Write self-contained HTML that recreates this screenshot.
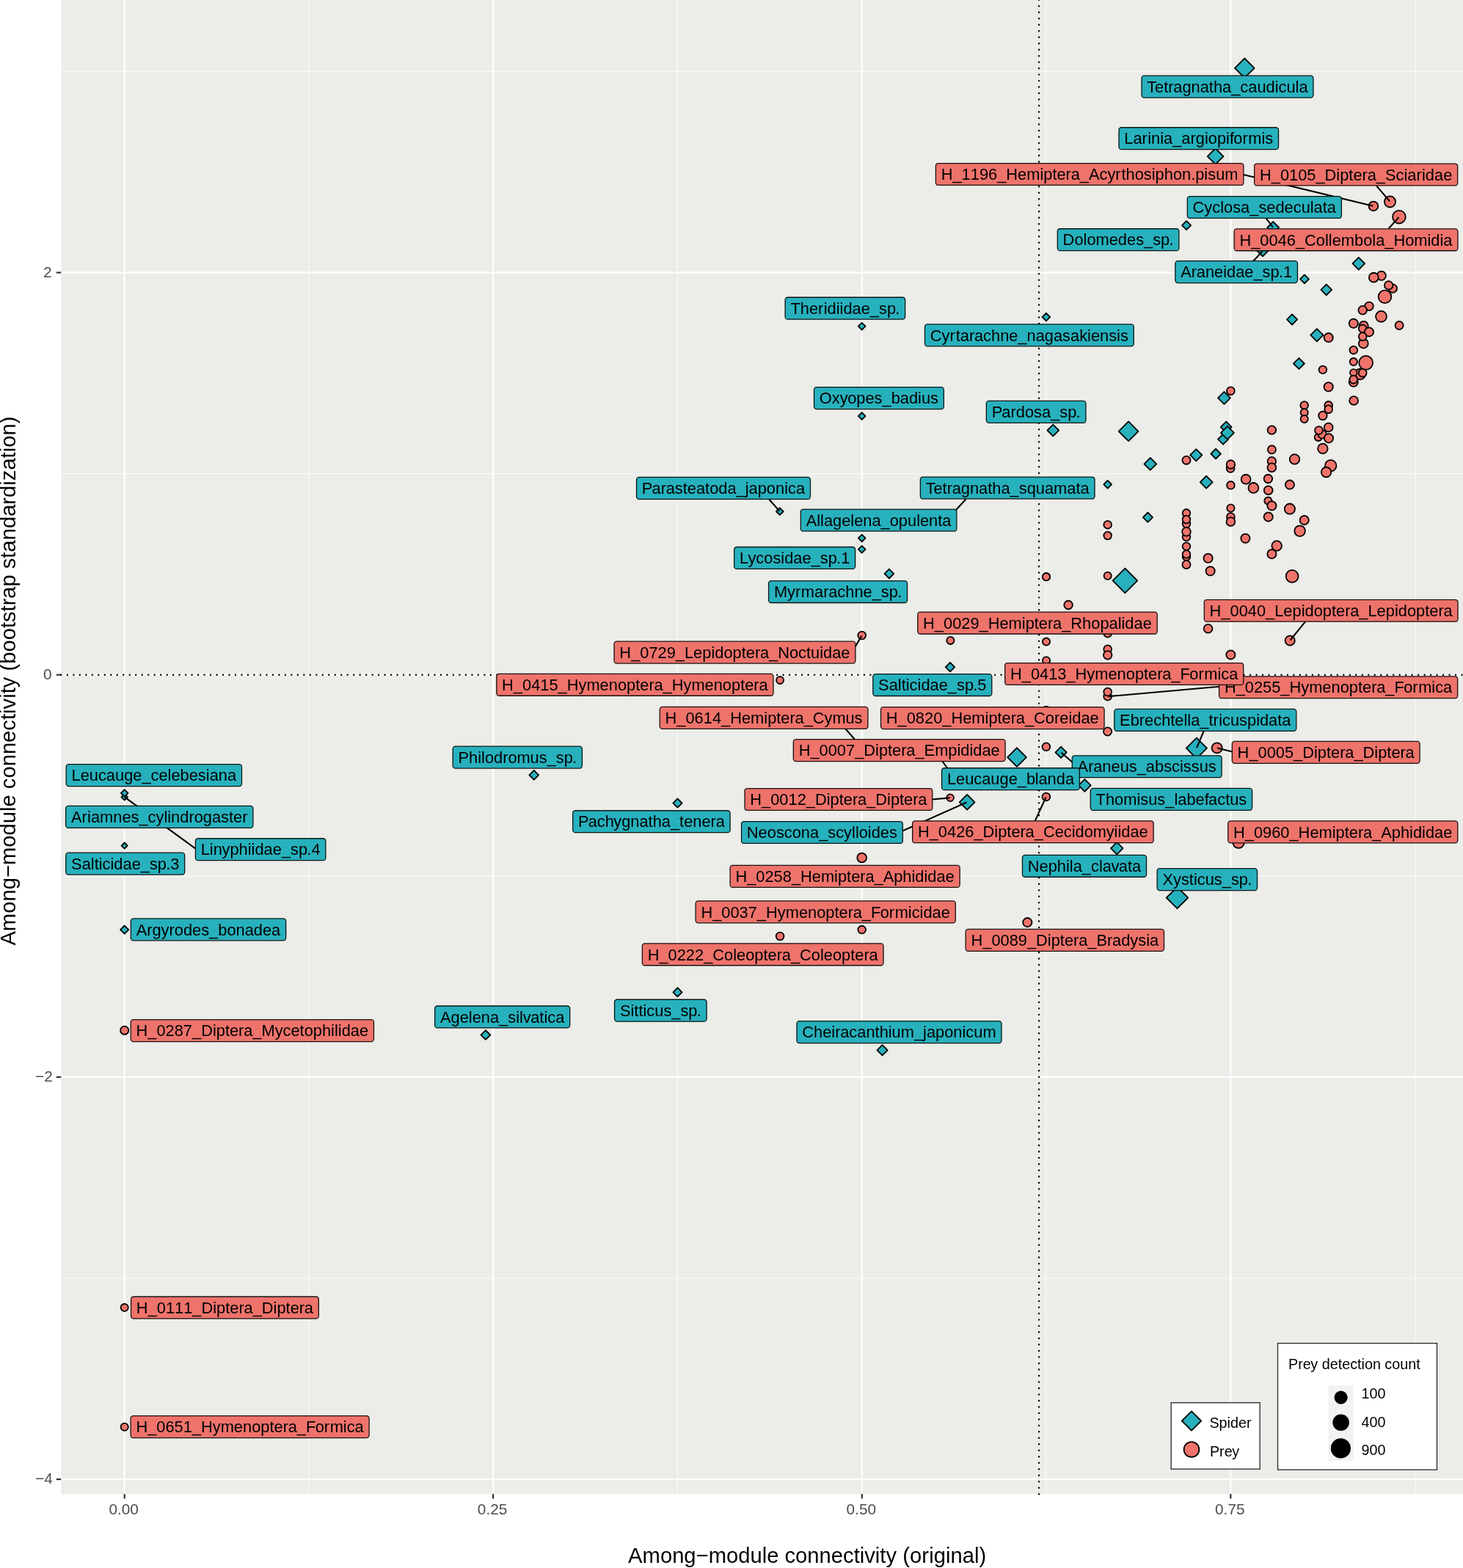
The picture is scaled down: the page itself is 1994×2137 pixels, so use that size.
<!DOCTYPE html>
<html lang="en"><head><meta charset="utf-8"><title>Among-module connectivity</title>
<style>html,body{margin:0;padding:0;background:#fff}body{width:1994px;height:2137px;overflow:hidden}svg{display:block}text{font-family:'Liberation Sans', sans-serif;font-kerning:none}</style>
</head><body>
<svg width="1994" height="2137" viewBox="0 0 1994 2137">
<rect x="0" y="0" width="1994" height="2137" fill="#fff"/>
<rect x="83.2" y="0" width="1910.8" height="2036.1" fill="#ecece8"/>
<defs><clipPath id="pc"><rect x="83.2" y="0" width="1910.8" height="2036.1"/></clipPath></defs>
<g clip-path="url(#pc)">
<g stroke="#fff" stroke-width="1.2" stroke-opacity="0.68">
<line x1="83.2" x2="1994" y1="97.4" y2="97.4"/>
<line x1="83.2" x2="1994" y1="645.6" y2="645.6"/>
<line x1="83.2" x2="1994" y1="1193.9" y2="1193.9"/>
<line x1="83.2" x2="1994" y1="1742" y2="1742"/>
<line x1="420.9" x2="420.9" y1="0" y2="2036.1"/>
<line x1="923.4" x2="923.4" y1="0" y2="2036.1"/>
<line x1="1425.9" x2="1425.9" y1="0" y2="2036.1"/>
<line x1="1929" x2="1929" y1="0" y2="2036.1"/>
</g>
<g stroke="#fff" stroke-width="2.3">
<line x1="83.2" x2="1994" y1="371.5" y2="371.5"/>
<line x1="83.2" x2="1994" y1="919.7" y2="919.7"/>
<line x1="83.2" x2="1994" y1="1467.9" y2="1467.9"/>
<line x1="83.2" x2="1994" y1="2016.1" y2="2016.1"/>
<line x1="169.7" x2="169.7" y1="0" y2="2036.1"/>
<line x1="672.1" x2="672.1" y1="0" y2="2036.1"/>
<line x1="1174.8" x2="1174.8" y1="0" y2="2036.1"/>
<line x1="1677.3" x2="1677.3" y1="0" y2="2036.1"/>
</g>
</g>
<g stroke="#000" stroke-width="2.45" stroke-linecap="round" stroke-dasharray="0.005 8.48" fill="none">
<line x1="1416.05" x2="1416.05" y1="2036.2" y2="-5"/>
<line x1="83.4" x2="1999" y1="919.65" y2="919.65"/>
</g>
<g clip-path="url(#pc)">
<g stroke="#000" stroke-width="1.8" stroke-linejoin="round">
<g fill="#27b1bd">
<path d="M1696.3 79.5L1709.6 92.8L1696.3 106.1L1683 92.8Z"/>
<path d="M1656.6 202.25L1667.45 213.1L1656.6 223.95L1645.75 213.1Z"/>
<path d="M1617.1 301.2L1623.1 307.2L1617.1 313.2L1611.1 307.2Z"/>
<path d="M1735.2 302.15L1743.05 310L1735.2 317.85L1727.35 310Z"/>
<path d="M1721 334.65L1728.35 342L1721 349.35L1713.65 342Z"/>
<path d="M1851.8 350.85L1860.15 359.2L1851.8 367.55L1843.45 359.2Z"/>
<path d="M1778 374.35L1783.95 380.3L1778 386.25L1772.05 380.3Z"/>
<path d="M1807.8 387.55L1815.15 394.9L1807.8 402.25L1800.45 394.9Z"/>
<path d="M1761.1 428.3L1768.2 435.4L1761.1 442.5L1754 435.4Z"/>
<path d="M1794.9 448.1L1803.5 456.7L1794.9 465.3L1786.3 456.7Z"/>
<path d="M1770.4 488.05L1777.85 495.5L1770.4 502.95L1762.95 495.5Z"/>
<path d="M1174.7 439.85L1179.55 444.7L1174.7 449.55L1169.85 444.7Z"/>
<path d="M1425.9 426.75L1431.25 432.1L1425.9 437.45L1420.55 432.1Z"/>
<path d="M1174.7 562.25L1179.55 567.1L1174.7 571.95L1169.85 567.1Z"/>
<path d="M1062.8 692.15L1067.65 697L1062.8 701.85L1057.95 697Z"/>
<path d="M1174.7 728.55L1179.55 733.4L1174.7 738.25L1169.85 733.4Z"/>
<path d="M1174.7 743.85L1179.55 748.7L1174.7 753.55L1169.85 748.7Z"/>
<path d="M1211.9 775.55L1218.25 781.9L1211.9 788.25L1205.55 781.9Z"/>
<path d="M1295 903L1301.2 909.2L1295 915.4L1288.8 909.2Z"/>
<path d="M1435.3 578.65L1443.15 586.5L1435.3 594.35L1427.45 586.5Z"/>
<path d="M1538.1 574.45L1551.45 587.8L1538.1 601.15L1524.75 587.8Z"/>
<path d="M1567.8 623.95L1576.15 632.3L1567.8 640.65L1559.45 632.3Z"/>
<path d="M1509.7 654.85L1515.05 660.2L1509.7 665.55L1504.35 660.2Z"/>
<path d="M1564.4 698.5L1571 705.1L1564.4 711.7L1557.8 705.1Z"/>
<path d="M1630.3 612.1L1638.4 620.2L1630.3 628.3L1622.2 620.2Z"/>
<path d="M1657.1 611.75L1663.85 618.5L1657.1 625.25L1650.35 618.5Z"/>
<path d="M1644.2 648.75L1652.65 657.2L1644.2 665.65L1635.75 657.2Z"/>
<path d="M1668.5 533.95L1676.95 542.4L1668.5 550.85L1660.05 542.4Z"/>
<path d="M1671.2 574.65L1678.55 582L1671.2 589.35L1663.85 582Z"/>
<path d="M1667.1 591.55L1674.15 598.6L1667.1 605.65L1660.05 598.6Z"/>
<path d="M1672.9 580.8L1681.9 589.8L1672.9 598.8L1663.9 589.8Z"/>
<path d="M1533.4 774.55L1550.15 791.3L1533.4 808.05L1516.65 791.3Z"/>
<path d="M1630.9 1005.6L1645 1019.7L1630.9 1033.8L1616.8 1019.7Z"/>
<path d="M1522.3 1147.85L1530.55 1156.1L1522.3 1164.35L1514.05 1156.1Z"/>
<path d="M1604.5 1208.8L1619.2 1223.5L1604.5 1238.2L1589.8 1223.5Z"/>
<path d="M1386 1019.25L1398.85 1032.1L1386 1044.95L1373.15 1032.1Z"/>
<path d="M1446.1 1017.7L1453.7 1025.3L1446.1 1032.9L1438.5 1025.3Z"/>
<path d="M1478.4 1062.05L1486.75 1070.4L1478.4 1078.75L1470.05 1070.4Z"/>
<path d="M1318.1 1082.95L1328.45 1093.3L1318.1 1103.65L1307.75 1093.3Z"/>
<path d="M727.8 1049.95L734.15 1056.3L727.8 1062.65L721.45 1056.3Z"/>
<path d="M923.5 1088.5L929.6 1094.6L923.5 1100.7L917.4 1094.6Z"/>
<path d="M923.5 1346.2L929.6 1352.3L923.5 1358.4L917.4 1352.3Z"/>
<path d="M169.7 1081.95L174.05 1086.3L169.7 1090.65L165.35 1086.3Z"/>
<path d="M169.7 1076.05L174.55 1080.9L169.7 1085.75L164.85 1080.9Z"/>
<path d="M169.7 1148.5L173.8 1152.6L169.7 1156.7L165.6 1152.6Z"/>
<path d="M169.7 1261.5L175.3 1267.1L169.7 1272.7L164.1 1267.1Z"/>
<path d="M661.9 1404.15L668.25 1410.5L661.9 1416.85L655.55 1410.5Z"/>
<path d="M1202.6 1424.15L1209.75 1431.3L1202.6 1438.45L1195.45 1431.3Z"/>
</g>
<g fill="#ee736b">
<circle cx="1871.9" cy="280.9" r="6.35"/>
<circle cx="1894.5" cy="274.9" r="7.6"/>
<circle cx="1906.9" cy="295.7" r="8.85"/>
<circle cx="1882.8" cy="375.8" r="6.1"/>
<circle cx="1872.3" cy="378.2" r="6.45"/>
<circle cx="1898.3" cy="393.1" r="5.75"/>
<circle cx="1892.7" cy="388.9" r="5.75"/>
<circle cx="1887.5" cy="404.4" r="8.8"/>
<circle cx="1866" cy="417.3" r="5.75"/>
<circle cx="1857.2" cy="422.7" r="5.75"/>
<circle cx="1882.5" cy="431.3" r="7.45"/>
<circle cx="1907.1" cy="443.5" r="5.55"/>
<circle cx="1844.8" cy="440.8" r="6.1"/>
<circle cx="1858.6" cy="443.9" r="6.1"/>
<circle cx="1857.2" cy="447.9" r="5.4"/>
<circle cx="1866" cy="452.4" r="6.1"/>
<circle cx="1858.3" cy="468.1" r="6.45"/>
<circle cx="1857.2" cy="458.7" r="5.4"/>
<circle cx="1810.7" cy="460.1" r="6.1"/>
<circle cx="1844.8" cy="477.2" r="5.3"/>
<circle cx="1853.8" cy="509.9" r="7.35"/>
<circle cx="1861.7" cy="494.4" r="9.45"/>
<circle cx="1844.8" cy="493.1" r="5.1"/>
<circle cx="1802.9" cy="503.9" r="5.3"/>
<circle cx="1844.8" cy="507.9" r="4.75"/>
<circle cx="1857.2" cy="508.2" r="5.4"/>
<circle cx="1844.8" cy="520.7" r="6.1"/>
<circle cx="1844.8" cy="517.3" r="5.4"/>
<circle cx="1810.7" cy="527.2" r="6.1"/>
<circle cx="1845.1" cy="546" r="5.9"/>
<circle cx="1777.7" cy="552.4" r="5.3"/>
<circle cx="1777.7" cy="562.3" r="5.1"/>
<circle cx="1777.7" cy="571.1" r="5.1"/>
<circle cx="1810.7" cy="552.4" r="5.4"/>
<circle cx="1810.7" cy="557.8" r="5.4"/>
<circle cx="1802.9" cy="566.5" r="5.75"/>
<circle cx="1810.7" cy="582.5" r="5.9"/>
<circle cx="1796.8" cy="595.9" r="5.1"/>
<circle cx="1802.2" cy="591.9" r="5.75"/>
<circle cx="1797.5" cy="586.5" r="5.4"/>
<circle cx="1811" cy="597.3" r="6.1"/>
<circle cx="1802.9" cy="611.4" r="6.75"/>
<circle cx="1764.5" cy="625.8" r="6.75"/>
<circle cx="1813.7" cy="634.7" r="7.75"/>
<circle cx="1807.6" cy="643.5" r="6.75"/>
<circle cx="1757.9" cy="660.6" r="6.1"/>
<circle cx="1757.9" cy="693.6" r="7.1"/>
<circle cx="1777.7" cy="708.9" r="6.1"/>
<circle cx="1771.6" cy="723.6" r="7.3"/>
<circle cx="1740.2" cy="743.9" r="6.75"/>
<circle cx="1761.1" cy="785.3" r="8.45"/>
<circle cx="1677.4" cy="532.8" r="5.4"/>
<circle cx="1617" cy="627.2" r="5.55"/>
<circle cx="1733.4" cy="586.1" r="5.75"/>
<circle cx="1733.4" cy="612.8" r="5.55"/>
<circle cx="1733.4" cy="628.7" r="5.75"/>
<circle cx="1733.4" cy="637.3" r="5.9"/>
<circle cx="1677.1" cy="638.4" r="5.4"/>
<circle cx="1677.4" cy="633" r="5.75"/>
<circle cx="1677.4" cy="661.3" r="5.3"/>
<circle cx="1698.1" cy="653.2" r="6.45"/>
<circle cx="1708.4" cy="664.9" r="6.9"/>
<circle cx="1728.4" cy="652.5" r="5.75"/>
<circle cx="1728.7" cy="668.3" r="5.9"/>
<circle cx="1728.4" cy="682.6" r="5.1"/>
<circle cx="1733.4" cy="689.2" r="6.1"/>
<circle cx="1728.7" cy="704.4" r="6.1"/>
<circle cx="1677.4" cy="692.5" r="5.1"/>
<circle cx="1677.4" cy="704.5" r="5.4"/>
<circle cx="1677.4" cy="711" r="5.9"/>
<circle cx="1617" cy="699.3" r="5.3"/>
<circle cx="1617" cy="714" r="5.3"/>
<circle cx="1617" cy="708" r="5.3"/>
<circle cx="1617" cy="731.8" r="5.3"/>
<circle cx="1617" cy="724.8" r="5.85"/>
<circle cx="1509.7" cy="715.2" r="5.3"/>
<circle cx="1509.7" cy="730" r="5.3"/>
<circle cx="1697.4" cy="733.8" r="6.1"/>
<circle cx="1509.7" cy="784.7" r="5.1"/>
<circle cx="1617" cy="744.6" r="5.3"/>
<circle cx="1617" cy="758.7" r="5.3"/>
<circle cx="1617" cy="755.4" r="5.3"/>
<circle cx="1617" cy="769.5" r="5.55"/>
<circle cx="1733.4" cy="755" r="6.1"/>
<circle cx="1646.6" cy="760.8" r="6.1"/>
<circle cx="1649.6" cy="778.3" r="6.1"/>
<circle cx="1646.6" cy="856.7" r="5.9"/>
<circle cx="1509.7" cy="863.2" r="5.35"/>
<circle cx="1509.7" cy="884.7" r="5.4"/>
<circle cx="1509.7" cy="892.8" r="5.75"/>
<circle cx="1677.4" cy="892.4" r="6.1"/>
<circle cx="1509.7" cy="949.2" r="5.35"/>
<circle cx="1509.7" cy="943" r="5.35"/>
<circle cx="1426" cy="786.1" r="5.1"/>
<circle cx="1426" cy="786.3" r="5.1"/>
<circle cx="1456.1" cy="824.5" r="5.75"/>
<circle cx="1295.4" cy="872.9" r="5.1"/>
<circle cx="1426" cy="874.6" r="5.1"/>
<circle cx="1426" cy="900.2" r="5.1"/>
<circle cx="1758.2" cy="873" r="6.6"/>
<circle cx="1174.7" cy="866" r="5.35"/>
<circle cx="1063.1" cy="927" r="5"/>
<circle cx="1509.6" cy="997" r="5.6"/>
<circle cx="1658.7" cy="1019.4" r="7"/>
<circle cx="1688.1" cy="1148" r="7.85"/>
<circle cx="1425.9" cy="968" r="5.35"/>
<circle cx="1425.9" cy="1017.8" r="5.35"/>
<circle cx="1295.1" cy="1087.3" r="4.85"/>
<circle cx="1425.9" cy="1086" r="5.35"/>
<circle cx="1295.1" cy="1052.4" r="5.35"/>
<circle cx="1174.7" cy="1169" r="6.35"/>
<circle cx="1400.3" cy="1257.1" r="6.1"/>
<circle cx="1174.7" cy="1267.1" r="5.35"/>
<circle cx="1063.1" cy="1276" r="5.35"/>
<circle cx="169.7" cy="1404.3" r="5.6"/>
<circle cx="169.7" cy="1782.1" r="5.1"/>
<circle cx="169.7" cy="1944.7" r="5.1"/>
</g>
</g>
<g stroke="#000" stroke-width="2.1" stroke-linecap="butt">
<line x1="1694.8" y1="238" x2="1871.32" y2="280.76"/>
<line x1="1876.2" y1="253.4" x2="1894.11" y2="274.44"/>
<line x1="1892.9" y1="311.3" x2="1906.5" y2="296.15"/>
<line x1="1725.6" y1="297.4" x2="1734.84" y2="309.52"/>
<line x1="1708.2" y1="355.8" x2="1720.59" y2="342.44"/>
<line x1="1048" y1="680.3" x2="1062.4" y2="696.55"/>
<line x1="1165.8" y1="881.1" x2="1174.4" y2="866.52"/>
<line x1="1316.7" y1="680" x2="1302.5" y2="695.5"/>
<line x1="1779.2" y1="847.1" x2="1758.58" y2="872.53"/>
<line x1="1661.7" y1="935.8" x2="1510.3" y2="949.15"/>
<line x1="1640.6" y1="996.5" x2="1631.13" y2="1019.15"/>
<line x1="1679.4" y1="1024.5" x2="1659.28" y2="1019.54"/>
<line x1="1152.3" y1="993.3" x2="1165" y2="1007.8"/>
<line x1="1284.4" y1="1037.5" x2="1294.75" y2="1051.91"/>
<line x1="1270.4" y1="1089.5" x2="1294.5" y2="1087.35"/>
<line x1="1230.5" y1="1132.3" x2="1317.55" y2="1093.54"/>
<line x1="1410.5" y1="1119.1" x2="1425.65" y2="1086.54"/>
<line x1="1461.5" y1="1038.8" x2="1446.55" y2="1025.7"/>
<line x1="266.2" y1="1156.3" x2="170.19" y2="1086.65"/>
</g>
<g font-size="21.84" fill="#000">
<rect x="1556.01" y="103.15" width="233.98" height="29.9" rx="3.5" ry="3.5" fill="#27b1bd" stroke="#000" stroke-opacity="0.9" stroke-width="1.3"/>
<text x="1563.32" y="125.8" dx="0 -2.62 0 0 -0.22">Tetragnatha_caudicula</text>
<rect x="1524.97" y="173.75" width="217.56" height="29.9" rx="3.5" ry="3.5" fill="#27b1bd" stroke="#000" stroke-opacity="0.9" stroke-width="1.3"/>
<text x="1532.28" y="196.4" dx="0 0 0 0.33 0 0 0 0 0 0 0 0 0 0 0 0 -0.66 0 0.55">Larinia_argiopiformis</text>
<rect x="1618.31" y="267.55" width="210.08" height="29.9" rx="3.5" ry="3.5" fill="#27b1bd" stroke="#000" stroke-opacity="0.9" stroke-width="1.3"/>
<text x="1625.62" y="290.2">Cyclosa_sedeculata</text>
<rect x="1441.3" y="311.75" width="165.61" height="29.9" rx="3.5" ry="3.5" fill="#27b1bd" stroke="#000" stroke-opacity="0.9" stroke-width="1.3"/>
<text x="1448.61" y="334.4" dx="0 0 0 0 0 0 0 0 0 0 0 0 -0.76">Dolomedes_sp.</text>
<rect x="1601.83" y="355.65" width="166.64" height="29.9" rx="3.5" ry="3.5" fill="#27b1bd" stroke="#000" stroke-opacity="0.9" stroke-width="1.3"/>
<text x="1609.14" y="378.3" dx="0 0 -0.22 0 0 0 0 0 0 0 0 0 -0.76">Araneidae_sp.1</text>
<rect x="1070.14" y="405.25" width="163.51" height="29.9" rx="3.5" ry="3.5" fill="#27b1bd" stroke="#000" stroke-opacity="0.9" stroke-width="1.3"/>
<text x="1077.45" y="427.9" dx="0 0 0 0 0.33 0 0 0 0 0 0 0 0 0 -0.76">Theridiidae_sp.</text>
<rect x="1260.51" y="441.9" width="284.79" height="29.9" rx="3.5" ry="3.5" fill="#27b1bd" stroke="#000" stroke-opacity="0.9" stroke-width="1.3"/>
<text x="1267.82" y="464.55" dx="0 0 0 0.87 0 0 -0.22">Cyrtarachne_nagasakiensis</text>
<rect x="1109.51" y="527.7" width="176.87" height="29.9" rx="3.5" ry="3.5" fill="#27b1bd" stroke="#000" stroke-opacity="0.9" stroke-width="1.3"/>
<text x="1116.82" y="550.35" dx="0 0 0 -0.44">Oxyopes_badius</text>
<rect x="1344.35" y="546.45" width="135.61" height="29.9" rx="3.5" ry="3.5" fill="#27b1bd" stroke="#000" stroke-opacity="0.9" stroke-width="1.3"/>
<text x="1351.66" y="569.1" dx="0 -0.87 0 0 0 0 0 0 0 0 -0.76">Pardosa_sp.</text>
<rect x="867.52" y="650.4" width="236.95" height="29.9" rx="3.5" ry="3.5" fill="#27b1bd" stroke="#000" stroke-opacity="0.9" stroke-width="1.3"/>
<text x="874.83" y="673.05" dx="0 -0.87 0 -0.22">Parasteatoda_japonica</text>
<rect x="1254.39" y="650.05" width="237.61" height="29.9" rx="3.5" ry="3.5" fill="#27b1bd" stroke="#000" stroke-opacity="0.9" stroke-width="1.3"/>
<text x="1261.7" y="672.7" dx="0 -2.62 0 0 -0.22">Tetragnatha_squamata</text>
<rect x="1091.32" y="694.05" width="212.57" height="29.9" rx="3.5" ry="3.5" fill="#27b1bd" stroke="#000" stroke-opacity="0.9" stroke-width="1.3"/>
<text x="1098.63" y="716.7">Allagelena_opulenta</text>
<rect x="1000.66" y="745.5" width="164.97" height="29.9" rx="3.5" ry="3.5" fill="#27b1bd" stroke="#000" stroke-opacity="0.9" stroke-width="1.3"/>
<text x="1007.97" y="768.15" dx="0 -0.66 0 0 0 0 0 0 0 0 0 0 -0.76">Lycosidae_sp.1</text>
<rect x="1047.57" y="791.6" width="188.97" height="29.9" rx="3.5" ry="3.5" fill="#27b1bd" stroke="#000" stroke-opacity="0.9" stroke-width="1.3"/>
<text x="1054.88" y="814.25" dx="0 0 0 0.55 0 0 -0.22 0 0 0 0 0 0 0 -0.76">Myrmarachne_sp.</text>
<rect x="1189.81" y="918.6" width="161.98" height="29.9" rx="3.5" ry="3.5" fill="#27b1bd" stroke="#000" stroke-opacity="0.9" stroke-width="1.3"/>
<text x="1197.12" y="941.25" dx="0 0 0 0 0 0 0 0 0 0 0 0 0 -0.76">Salticidae_sp.5</text>
<rect x="1518.78" y="966.45" width="248.04" height="29.9" rx="3.5" ry="3.5" fill="#27b1bd" stroke="#000" stroke-opacity="0.9" stroke-width="1.3"/>
<text x="1526.09" y="989.1" dx="0 0 0 0 0 0 0 0 0 0 0 0 0 0 0.33">Ebrechtella_tricuspidata</text>
<rect x="1461.31" y="1029.8" width="203.79" height="29.9" rx="3.5" ry="3.5" fill="#27b1bd" stroke="#000" stroke-opacity="0.9" stroke-width="1.3"/>
<text x="1468.62" y="1052.45" dx="0 0 -0.22">Araneus_abscissus</text>
<rect x="1283.57" y="1046.75" width="187.86" height="29.9" rx="3.5" ry="3.5" fill="#27b1bd" stroke="#000" stroke-opacity="0.9" stroke-width="1.3"/>
<text x="1290.88" y="1069.4" dx="0 0 0 0 0 0 0 0 0 0 -0.44">Leucauge_blanda</text>
<rect x="1486.28" y="1074.4" width="220.34" height="29.9" rx="3.5" ry="3.5" fill="#27b1bd" stroke="#000" stroke-opacity="0.9" stroke-width="1.3"/>
<text x="1493.59" y="1097.05" dx="0 0 0 0 0 0 0 0 0 0 0 0 0 0 -0.66">Thomisus_labefactus</text>
<rect x="617.15" y="1017.15" width="176.31" height="29.9" rx="3.5" ry="3.5" fill="#27b1bd" stroke="#000" stroke-opacity="0.9" stroke-width="1.3"/>
<text x="624.46" y="1039.8" dx="0 0 0 0 0 0 0 0 0 -0.22 0 0 0 0 -0.76">Philodromus_sp.</text>
<rect x="780.68" y="1104.75" width="214.45" height="29.9" rx="3.5" ry="3.5" fill="#27b1bd" stroke="#000" stroke-opacity="0.9" stroke-width="1.3"/>
<text x="787.99" y="1127.4" dx="0 -0.87 0 0 -0.66 0 0 0 0 0 0 0 0 0 0 0 0 -0.22">Pachygnatha_tenera</text>
<rect x="1010.56" y="1119.55" width="219.79" height="29.9" rx="3.5" ry="3.5" fill="#27b1bd" stroke="#000" stroke-opacity="0.9" stroke-width="1.3"/>
<text x="1017.87" y="1142.2">Neoscona_scylloides</text>
<rect x="1393.48" y="1165.35" width="169.05" height="29.9" rx="3.5" ry="3.5" fill="#27b1bd" stroke="#000" stroke-opacity="0.9" stroke-width="1.3"/>
<text x="1400.79" y="1188" dx="0 0 0 0 0 0 0 0 0 0 0 -0.44 -0.55">Nephila_clavata</text>
<rect x="1577.12" y="1183.7" width="136.45" height="29.9" rx="3.5" ry="3.5" fill="#27b1bd" stroke="#000" stroke-opacity="0.9" stroke-width="1.3"/>
<text x="1584.43" y="1206.35" dx="0 0 0 0 0 0 0 0 0 0 0 -0.76">Xysticus_sp.</text>
<rect x="90.21" y="1041.65" width="239.28" height="29.9" rx="3.5" ry="3.5" fill="#27b1bd" stroke="#000" stroke-opacity="0.9" stroke-width="1.3"/>
<text x="97.52" y="1064.3">Leucauge_celebesiana</text>
<rect x="89.6" y="1098.4" width="255.3" height="29.9" rx="3.5" ry="3.5" fill="#27b1bd" stroke="#000" stroke-opacity="0.9" stroke-width="1.3"/>
<text x="96.91" y="1121.05" dx="0 0 0.33">Ariamnes_cylindrogaster</text>
<rect x="266.42" y="1142.75" width="177.46" height="29.9" rx="3.5" ry="3.5" fill="#27b1bd" stroke="#000" stroke-opacity="0.9" stroke-width="1.3"/>
<text x="273.73" y="1165.4" dx="0 0 0 -0.33 0 0 0 0 0 0 0 0 0 0 -0.76">Linyphiidae_sp.4</text>
<rect x="89.76" y="1162.15" width="161.98" height="29.9" rx="3.5" ry="3.5" fill="#27b1bd" stroke="#000" stroke-opacity="0.9" stroke-width="1.3"/>
<text x="97.07" y="1184.8" dx="0 0 0 0 0 0 0 0 0 0 0 0 0 -0.76">Salticidae_sp.3</text>
<rect x="178.33" y="1251.9" width="211.33" height="29.9" rx="3.5" ry="3.5" fill="#27b1bd" stroke="#000" stroke-opacity="0.9" stroke-width="1.3"/>
<text x="185.64" y="1274.55">Argyrodes_bonadea</text>
<rect x="592.63" y="1371" width="184.05" height="29.9" rx="3.5" ry="3.5" fill="#27b1bd" stroke="#000" stroke-opacity="0.9" stroke-width="1.3"/>
<text x="599.94" y="1393.65" dx="0 0 0 0 0 0 0 0 0 0 0 0 -0.55">Agelena_silvatica</text>
<rect x="837.58" y="1362.25" width="125.53" height="29.9" rx="3.5" ry="3.5" fill="#27b1bd" stroke="#000" stroke-opacity="0.9" stroke-width="1.3"/>
<text x="844.89" y="1384.9" dx="0 0 0 0 0 0 0 0 0 0 0 -0.76">Sitticus_sp.</text>
<rect x="1085.97" y="1391.65" width="279.05" height="29.9" rx="3.5" ry="3.5" fill="#27b1bd" stroke="#000" stroke-opacity="0.9" stroke-width="1.3"/>
<text x="1093.28" y="1414.3" dx="0 0 0 0 0 -0.22">Cheiracanthium_japonicum</text>
<rect x="1275.38" y="222.55" width="419.54" height="29.9" rx="3.5" ry="3.5" fill="#ee736b" stroke="#000" stroke-opacity="0.9" stroke-width="1.3"/>
<text x="1282.69" y="245.2" dx="0 0 0 0 0 0 0 0 0 0 0 0 0 0 0 -0.22 0 0 0 0 0 0.87">H_1196_Hemiptera_Acyrthosiphon.pisum</text>
<rect x="1709.66" y="223.05" width="276.98" height="29.9" rx="3.5" ry="3.5" fill="#ee736b" stroke="#000" stroke-opacity="0.9" stroke-width="1.3"/>
<text x="1716.97" y="245.7" dx="0 0 0 0 0 0 0 0 0 0 0 0 0 -0.22 0 0 0 0 0 0 0.33">H_0105_Diptera_Sciaridae</text>
<rect x="1682.16" y="311.85" width="304.78" height="29.9" rx="3.5" ry="3.5" fill="#ee736b" stroke="#000" stroke-opacity="0.9" stroke-width="1.3"/>
<text x="1689.47" y="334.5">H_0046_Collembola_Homidia</text>
<rect x="1250.78" y="834.1" width="326.45" height="29.9" rx="3.5" ry="3.5" fill="#ee736b" stroke="#000" stroke-opacity="0.9" stroke-width="1.3"/>
<text x="1258.09" y="856.75" dx="0 0 0 0 0 0 0 0 0 0 0 0 0 0 0 -0.22">H_0029_Hemiptera_Rhopalidae</text>
<rect x="1641.3" y="817.3" width="345.71" height="29.9" rx="3.5" ry="3.5" fill="#ee736b" stroke="#000" stroke-opacity="0.9" stroke-width="1.3"/>
<text x="1648.61" y="839.95" dx="0 0 0 0 0 0 0 0 0 0 0 0 0 0 0 0 0 -0.22 0 0 0 0 0 0 0 0 0 0 0 -0.22">H_0040_Lepidoptera_Lepidoptera</text>
<rect x="837.05" y="874.2" width="328.91" height="29.9" rx="3.5" ry="3.5" fill="#ee736b" stroke="#000" stroke-opacity="0.9" stroke-width="1.3"/>
<text x="844.36" y="896.85" dx="0 0 0 0 0 0 0 0 0 0 0 0 0 0 0 0 0 -0.22">H_0729_Lepidoptera_Noctuidae</text>
<rect x="676.8" y="918.35" width="377.19" height="29.9" rx="3.5" ry="3.5" fill="#ee736b" stroke="#000" stroke-opacity="0.9" stroke-width="1.3"/>
<text x="684.11" y="941" dx="0 0 0 0 0 0 0 0 0 0 0 0 0 0 0 0 0 -0.22 0 0 0 0 0 0 0 0 0 0 0 -0.22">H_0415_Hymenoptera_Hymenoptera</text>
<rect x="1661.57" y="921.8" width="325.07" height="29.9" rx="3.5" ry="3.5" fill="#ee736b" stroke="#000" stroke-opacity="0.9" stroke-width="1.3"/>
<text x="1668.88" y="944.45" dx="0 0 0 0 0 0 0 0 0 0 0 0 0 0 0 0 0 -0.22 0 0 -0.66 0 0.55">H_0255_Hymenoptera_Formica</text>
<rect x="1369.67" y="903.55" width="325.07" height="29.9" rx="3.5" ry="3.5" fill="#ee736b" stroke="#000" stroke-opacity="0.9" stroke-width="1.3"/>
<text x="1376.98" y="926.2" dx="0 0 0 0 0 0 0 0 0 0 0 0 0 0 0 0 0 -0.22 0 0 -0.66 0 0.55">H_0413_Hymenoptera_Formica</text>
<rect x="899.26" y="963.45" width="283.68" height="29.9" rx="3.5" ry="3.5" fill="#ee736b" stroke="#000" stroke-opacity="0.9" stroke-width="1.3"/>
<text x="906.57" y="986.1" dx="0 0 0 0 0 0 0 0 0 0 0 0 0 0 0 -0.22 0 0 0 0 -0.22">H_0614_Hemiptera_Cymus</text>
<rect x="1200.51" y="963.7" width="304.57" height="29.9" rx="3.5" ry="3.5" fill="#ee736b" stroke="#000" stroke-opacity="0.9" stroke-width="1.3"/>
<text x="1207.82" y="986.35" dx="0 0 0 0 0 0 0 0 0 0 0 0 0 0 0 -0.22">H_0820_Hemiptera_Coreidae</text>
<rect x="1081.35" y="1007.7" width="288.8" height="29.9" rx="3.5" ry="3.5" fill="#ee736b" stroke="#000" stroke-opacity="0.9" stroke-width="1.3"/>
<text x="1088.66" y="1030.35" dx="0 0 0 0 0 0 0 0 0 0 0 0 0 -0.22">H_0007_Diptera_Empididae</text>
<rect x="1679.31" y="1010.4" width="255.79" height="29.9" rx="3.5" ry="3.5" fill="#ee736b" stroke="#000" stroke-opacity="0.9" stroke-width="1.3"/>
<text x="1686.62" y="1033.05" dx="0 0 0 0 0 0 0 0 0 0 0 0 0 -0.22 0 0 0 0 0 0 0 -0.22">H_0005_Diptera_Diptera</text>
<rect x="1015.01" y="1074.55" width="255.79" height="29.9" rx="3.5" ry="3.5" fill="#ee736b" stroke="#000" stroke-opacity="0.9" stroke-width="1.3"/>
<text x="1022.32" y="1097.2" dx="0 0 0 0 0 0 0 0 0 0 0 0 0 -0.22 0 0 0 0 0 0 0 -0.22">H_0012_Diptera_Diptera</text>
<rect x="1243.64" y="1118.8" width="328.52" height="29.9" rx="3.5" ry="3.5" fill="#ee736b" stroke="#000" stroke-opacity="0.9" stroke-width="1.3"/>
<text x="1250.95" y="1141.45" dx="0 0 0 0 0 0 0 0 0 0 0 0 0 -0.22 0 0 0 0 0 0 0 0 -0.33">H_0426_Diptera_Cecidomyiidae</text>
<rect x="1673.7" y="1118.9" width="313.09" height="29.9" rx="3.5" ry="3.5" fill="#ee736b" stroke="#000" stroke-opacity="0.9" stroke-width="1.3"/>
<text x="1681.01" y="1141.55" dx="0 0 0 0 0 0 0 0 0 0 0 0 0 0 0 -0.22">H_0960_Hemiptera_Aphididae</text>
<rect x="995.1" y="1179.4" width="313.09" height="29.9" rx="3.5" ry="3.5" fill="#ee736b" stroke="#000" stroke-opacity="0.9" stroke-width="1.3"/>
<text x="1002.41" y="1202.05" dx="0 0 0 0 0 0 0 0 0 0 0 0 0 0 0 -0.22">H_0258_Hemiptera_Aphididae</text>
<rect x="948.09" y="1227.9" width="354.21" height="29.9" rx="3.5" ry="3.5" fill="#ee736b" stroke="#000" stroke-opacity="0.9" stroke-width="1.3"/>
<text x="955.4" y="1250.55" dx="0 0 0 0 0 0 0 0 0 0 0 0 0 0 0 0 0 -0.22 0 0 -0.66 0 0.55">H_0037_Hymenoptera_Formicidae</text>
<rect x="1316.17" y="1266.45" width="270.36" height="29.9" rx="3.5" ry="3.5" fill="#ee736b" stroke="#000" stroke-opacity="0.9" stroke-width="1.3"/>
<text x="1323.48" y="1289.1" dx="0 0 0 0 0 0 0 0 0 0 0 0 0 -0.22 0 0 0 -0.22">H_0089_Diptera_Bradysia</text>
<rect x="875.37" y="1285.85" width="328.67" height="29.9" rx="3.5" ry="3.5" fill="#ee736b" stroke="#000" stroke-opacity="0.9" stroke-width="1.3"/>
<text x="882.68" y="1308.5" dx="0 0 0 0 0 0 0 0 0 0 0 0 0 0 0 0 -0.22 0 0 0 0 0 0 0 0 0 0 -0.22">H_0222_Coleoptera_Coleoptera</text>
<rect x="178.21" y="1389.65" width="331.29" height="29.9" rx="3.5" ry="3.5" fill="#ee736b" stroke="#000" stroke-opacity="0.9" stroke-width="1.3"/>
<text x="185.52" y="1412.3" dx="0 0 0 0 0 0 0 0 0 0 0 0 0 -0.22">H_0287_Diptera_Mycetophilidae</text>
<rect x="178.56" y="1767.25" width="255.79" height="29.9" rx="3.5" ry="3.5" fill="#ee736b" stroke="#000" stroke-opacity="0.9" stroke-width="1.3"/>
<text x="185.87" y="1789.9" dx="0 0 0 0 0 0 0 0 0 0 0 0 0 -0.22 0 0 0 0 0 0 0 -0.22">H_0111_Diptera_Diptera</text>
<rect x="178.07" y="1929.65" width="325.07" height="29.9" rx="3.5" ry="3.5" fill="#ee736b" stroke="#000" stroke-opacity="0.9" stroke-width="1.3"/>
<text x="185.38" y="1952.3" dx="0 0 0 0 0 0 0 0 0 0 0 0 0 0 0 0 0 -0.22 0 0 -0.66 0 0.55">H_0651_Hymenoptera_Formica</text>
</g>
<g>
<rect x="1596.2" y="1911.7" width="121" height="90.5" fill="#fff" stroke="#333" stroke-width="1.4"/>
<path d="M1624 1923.35L1637.15 1936.5L1624 1949.65L1610.85 1936.5Z" fill="#27b1bd" stroke="#000" stroke-linejoin="round" stroke-width="1.8"/>
<circle cx="1624" cy="1975.5" r="10.4" fill="#ee736b" stroke="#000" stroke-width="1.8"/>
<g font-size="19.75" fill="#000">
<text x="1648.4" y="1946">Spider</text>
<text x="1648.9" y="1984.5" dx="0 0 0 -0.4">Prey</text>
</g>
<rect x="1741.5" y="1830.7" width="217" height="172.4" fill="#fff" stroke="#333" stroke-width="1.4"/>
<rect x="1810.6" y="1888.3" width="34" height="103" fill="#f2f2f2"/>
<circle cx="1827.6" cy="1904.6" r="9.05" fill="#000"/>
<circle cx="1827.6" cy="1938.8" r="11.3" fill="#000"/>
<circle cx="1827.4" cy="1973.9" r="13.6" fill="#000"/>
<g font-size="19.75" fill="#000">
<text x="1756" y="1866.3" dx="0 0 0 -0.4">Prey detection count</text>
<text x="1855.6" y="1906.4">100</text>
<text x="1855.6" y="1944.9">400</text>
<text x="1855.6" y="1983.4">900</text>
</g>
</g>
</g>
<g stroke="#333" stroke-width="2.2">
<line x1="169.7" x2="169.7" y1="2036.1" y2="2042.5"/>
<line x1="672.1" x2="672.1" y1="2036.1" y2="2042.5"/>
<line x1="1174.8" x2="1174.8" y1="2036.1" y2="2042.5"/>
<line x1="1677.3" x2="1677.3" y1="2036.1" y2="2042.5"/>
<line x1="76.8" x2="83.2" y1="371.5" y2="371.5"/>
<line x1="76.8" x2="83.2" y1="919.7" y2="919.7"/>
<line x1="76.8" x2="83.2" y1="1467.9" y2="1467.9"/>
<line x1="76.8" x2="83.2" y1="2016.1" y2="2016.1"/>
</g>
<g font-size="20.8" fill="#4d4d4d">
<text x="148.46" y="2064.4">0.00</text>
<text x="650.86" y="2064.4">0.25</text>
<text x="1153.56" y="2064.4">0.50</text>
<text x="1656.06" y="2064.4">0.75</text>
<text x="58.93" y="377.7">2</text>
<text x="58.93" y="925.9">0</text>
<text x="48.09" y="1474.1">−2</text>
<text x="48.09" y="2022.3">−4</text>
</g>
<g font-size="29.2" fill="#000">
<text x="856.1" y="2130.2" dx="0 0 0 0 0 0 0 0 0 0 0 0 0 0 0 0 0 0 0 0 0 0 0 0 0 0 0 0 0 0.44">Among−module connectivity (original)</text>
<text x="0" y="0" dx="0 0 0 0 0 0 0 0 0 0 0 0 0 0 0 0 0 0 0 0 0 0 0 0 0 0 0 0 0 0 0 0 0 0 -0.29" transform="translate(21.3 1288.6) rotate(-90)">Among−module connectivity (bootstrap standardization)</text>
</g>
</svg>
</body></html>
